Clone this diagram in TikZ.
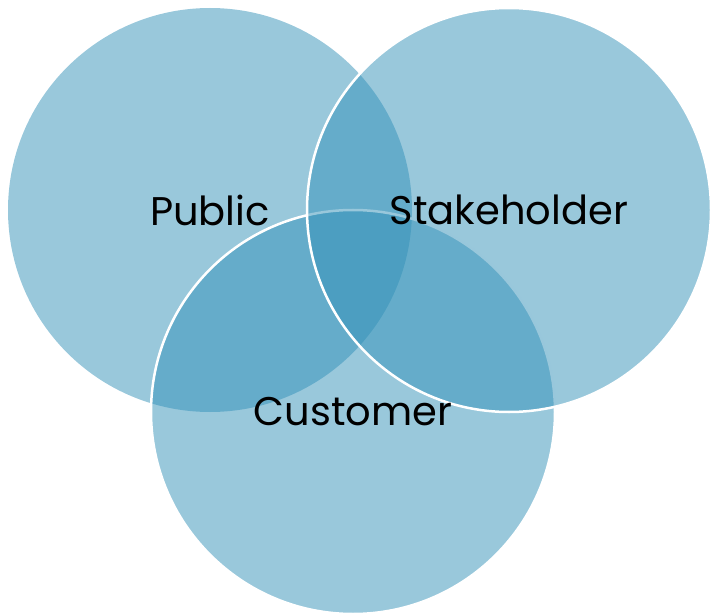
\documentclass[tikz,border=0pt]{standalone}
\usepackage{fontspec}
\setmainfont{Poppins}
\definecolor{vennblue}{RGB}{51,145,184}
\begin{document}
\begin{tikzpicture}[x=1pt,y=-1pt,
    set/.style={circle,minimum size=404pt,inner sep=0pt,fill=vennblue,fill opacity=.5},
    rim/.style={set,draw=white,line width=2.5pt},
    setlabel/.style={font=\fontsize{40}{48}\selectfont,text=black}]
    \useasboundingbox (0,0) rectangle (710,615);
    % the public set is drawn first and has no rim
    \node[set] (public) at (210,210) {};
    \node[rim] (customer) at (353,412) {};
    \node[rim] (stake) at (509,210) {};
    \foreach \mynode/\mytext in {public/Public,stake/Stakeholder,customer/Customer}{
        \node[setlabel] at (\mynode) {\mytext};
    }
\end{tikzpicture}
\end{document}
